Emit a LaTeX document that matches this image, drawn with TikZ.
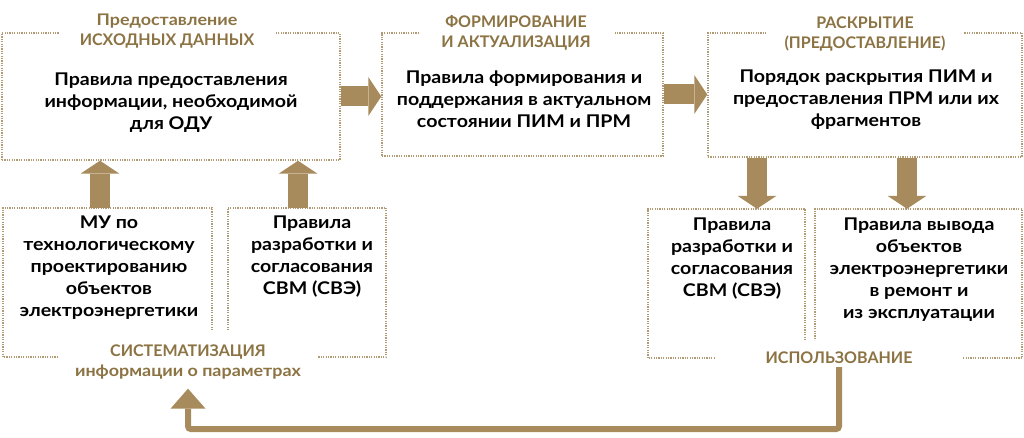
\documentclass[tikz,border=0pt]{standalone}
\usepackage{fontspec}
\setmainfont{Lato}
\newfontfamily\bodyfont{Lato}[FakeStretch=1.12]
\usetikzlibrary{positioning,arrows.meta}
\definecolor{gold}{HTML}{A88B5C}
\definecolor{goldtext}{HTML}{8C7343}
\definecolor{golddots}{HTML}{B09B74}
\tikzset{
myframe/.style={
  draw=golddots,
  line width=1.5pt,
  dash pattern=on 1.2pt off 1.2pt
  },
mybox/.style={
  myframe,
  rectangle,
  inner sep=0pt
  },
mycell/.style={
  rectangle,
  inner sep=0pt
  },
mytext/.style={
  align=center,
  font=\bodyfont\bfseries\fontsize{17.5}{22}\selectfont
  },
mytitle/.style={
  fill=white,
  align=center,
  text=goldtext,
  inner xsep=0pt,
  inner ysep=3pt,
  font=\bfseries\fontsize{16}{20.5}\selectfont
  },
myarrow/.style={
  draw=gold,
  line width=20pt,
  -{Triangle[length=13pt,width=39pt,line width=0pt]}
  },
backarrow/.style={
  draw=gold,
  line width=6pt,
  rounded corners=3pt,
  -{Triangle[length=20pt,width=35pt,line width=0pt]}
  }
}

\begin{document}
\begin{tikzpicture}[x=1pt,y=-1pt]
\fill[white] (0,0) rectangle (1024,438);
\useasboundingbox (0,0) rectangle (1024,438);

\node[mybox, minimum width=338pt, minimum height=127pt]
at (171,96.5)
(box1) {};
\node[mybox, minimum width=281pt, minimum height=123pt]
at (522.5,94.5)
(box2) {};
\node[mybox, minimum width=314pt, minimum height=124pt]
at (865,95)
(box3) {};

\node[mycell, minimum width=209pt, minimum height=122pt]
at (107.5,269)
(box4) {};
\node[mycell, minimum width=158pt, minimum height=122pt]
at (307,269)
(box5) {};
\node[mycell, minimum width=157pt, minimum height=131pt]
at (726.5,274.5)
(box6) {};
\node[mycell, minimum width=207pt, minimum height=131pt]
at (918.5,274.5)
(box7) {};

\draw[myframe]
  (box4.south east) -- (box4.north east) -- (box4.north west)
  -- ([yshift=-27pt]box4.south west) -- ([yshift=-27pt]box5.south east)
  -- (box5.north east) -- (box5.north west) -- (box5.south west);
\draw[myframe]
  (box6.south east) -- (box6.north east) -- (box6.north west)
  -- ([yshift=-18pt]box6.south west) -- ([yshift=-18pt]box7.south east)
  -- (box7.north east) -- (box7.north west) -- (box7.south west);

\node[mytitle, minimum width=215pt]
at (167,31)
(title1) {{\bodyfont Предоставление}\\ИСХОДНЫХ ДАННЫХ};
\node[mytitle, minimum width=195pt]
at (516,33)
(title2) {ФОРМИРОВАНИЕ\\И АКТУАЛИЗАЦИЯ};
\node[mytitle, minimum width=195pt]
at (865,34)
(title3) {РАСКРЫТИЕ\\(ПРЕДОСТАВЛЕНИЕ)};
\node[mytitle, minimum width=260pt]
at (188,362)
(title4) {СИСТЕМАТИЗАЦИЯ\\{\bodyfont информации о параметрах}};
\node[mytitle, minimum width=248pt]
at (839,358)
(title5) {ИСПОЛЬЗОВАНИЕ};

\node[mytext]
at (171,103)
(box1Text) {Правила предоставления\\информации, необходимой\\для ОДУ};
\node[mytext]
at (524,99)
(box2Text) {Правила формирования и\\поддержания в актуальном\\состоянии ПИМ и ПРМ};
\node[mytext]
at (866,100)
(box3Text) {Порядок раскрытия ПИМ и\\предоставления ПРМ или их\\фрагментов};
\node[mytext]
at (109,268)
(box4Text) {МУ по\\технологическому\\проектированию\\объектов\\электроэнергетики};
\node[mytext]
at (312,257)
(box5Text) {Правила\\разработки и\\согласования\\СВМ (СВЭ)};
\node[mytext]
at (732,259)
(box6Text) {Правила\\разработки и\\согласования\\СВМ (СВЭ)};
\node[mytext]
at (919,270)
(box7Text) {Правила вывода\\объектов\\электроэнергетики\\в ремонт и\\из эксплуатации};

\coordinate (up1) at (100,0);
\coordinate (up2) at (298,0);
\coordinate (down1) at (757,0);
\coordinate (down2) at (907,0);

\begin{scope}
\draw[myarrow]
  (box1.east) -- (box1.east -| box2.west);
\draw[myarrow]
  (box2.east) -- (box2.east -| box3.west);
\draw[myarrow]
  (box4.north -| up1) -- (box1.south -| up1);
\draw[myarrow]
  (box5.north -| up2) -- (box1.south -| up2);
\draw[myarrow]
  (box3.south -| down1) -- (box6.north -| down1);
\draw[myarrow]
  (box3.south -| down2) -- (box7.north -| down2);
\draw[backarrow, shorten >=6pt]
  (title5.south) -- ++(0,62) -| (title4.south);
\end{scope}
\end{tikzpicture}
\end{document}
